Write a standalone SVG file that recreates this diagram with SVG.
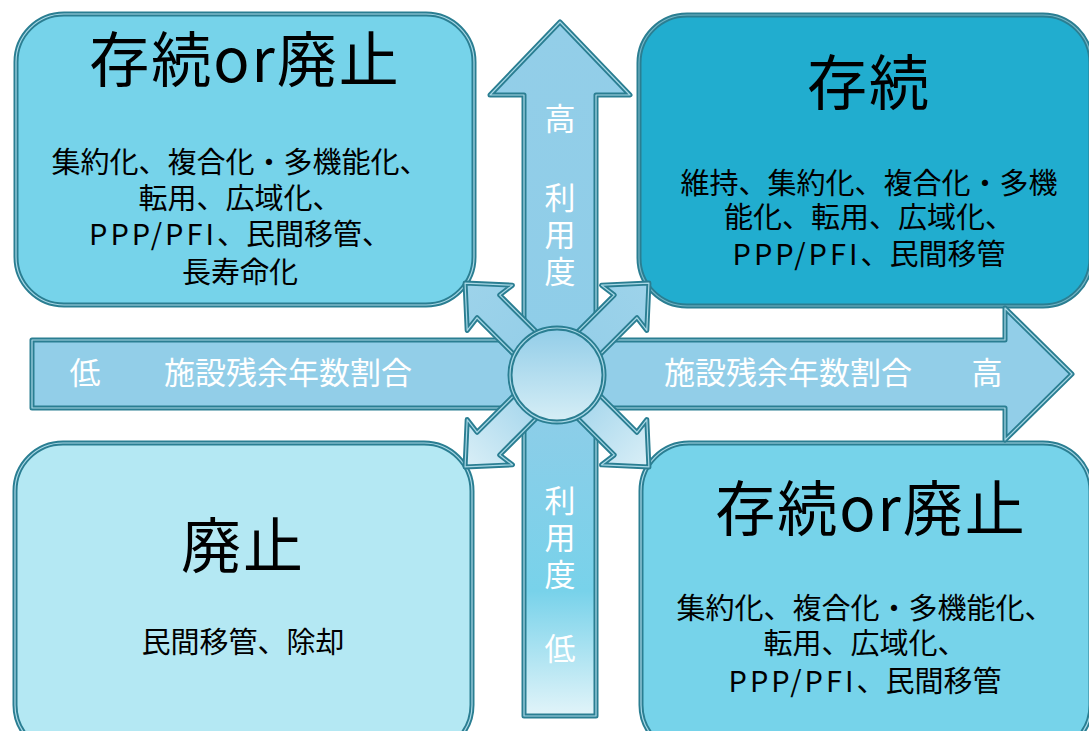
<svg xmlns="http://www.w3.org/2000/svg" width="1089" height="731" viewBox="0 0 1089 731">
<style>
.t{font-family:"Noto Sans CJK JP","Noto Sans CJK SC",sans-serif;text-anchor:middle;fill:#000}
.title{font-size:60px;letter-spacing:2px}
.body{font-size:29px}
.lbl{font-family:"Noto Sans CJK JP","Noto Sans CJK SC",sans-serif;text-anchor:middle;fill:#fff;font-size:31px}
.vl{font-family:"Noto Sans CJK JP","Noto Sans CJK SC",sans-serif;fill:#fff;font-size:31px;writing-mode:vertical-rl;letter-spacing:6px}
.edge{fill:none;stroke:#2A7E92;stroke-width:5;stroke-linejoin:round}
.hi{fill:none;stroke:#A9D8E6;stroke-width:1.2;stroke-linejoin:round}
</style>
<defs>
<linearGradient id="vg" gradientUnits="userSpaceOnUse" x1="0" y1="22" x2="0" y2="716">
<stop offset="0" stop-color="#93CEE8"/>
<stop offset="0.55" stop-color="#8ECDE8"/>
<stop offset="0.82" stop-color="#78D2EA"/>
<stop offset="1" stop-color="#E2F4F9"/>
</linearGradient>
<linearGradient id="cg" x1="0" y1="0" x2="0" y2="1">
<stop offset="0" stop-color="#92CDE8"/>
<stop offset="1" stop-color="#D6EEF6"/>
</linearGradient>
<linearGradient id="dgU" x1="0" y1="0" x2="1" y2="0">
<stop offset="0" stop-color="#92CDE8"/>
<stop offset="1" stop-color="#9DD3EA"/>
</linearGradient>
<linearGradient id="dgD" x1="0" y1="0" x2="1" y2="0">
<stop offset="0" stop-color="#92CDE8"/>
<stop offset="1" stop-color="#DAEFF7"/>
</linearGradient>
<path id="diag" d="M0,-16 L97,-16 L95,-32 L130,0 L95,32 L97,16 L0,16 Z"/>
<path id="varrow" d="M560,22 L630,95 L596,95 L596,716 L524,716 L524,95 L490,95 Z"/>
<path id="harrow" d="M32,340 L1005,340 L1005,308 L1072,374 L1005,440 L1005,408 L32,408 Z"/>
</defs>

<g id="node-tl">
<rect x="16" y="14" width="458" height="291" rx="48" fill="#76D3EA"/>
<rect x="16" y="14" width="458" height="291" rx="48" class="edge"/>
<rect x="16" y="14" width="458" height="291" rx="48" class="hi"/>
<text class="t title" x="245" y="82">存続or廃止</text>
<text class="t body"><tspan x="240" y="173">集約化、複合化・多機能化、</tspan><tspan x="240" y="209">転用、広域化、</tspan><tspan x="240" y="245"><tspan letter-spacing="3">PPP/PFI</tspan>、民間移管、</tspan><tspan x="240" y="283">長寿命化</tspan></text>
</g>

<g id="node-tr">
<rect x="639" y="15" width="452" height="291" rx="48" fill="#21ADCF"/>
<rect x="639" y="15" width="452" height="291" rx="48" class="edge"/>
<rect x="639" y="15" width="452" height="291" rx="48" class="hi" stroke-opacity="0.6"/>
<text class="t title" x="869" y="105">存続</text>
<text class="t body"><tspan x="869" y="194">維持、集約化、複合化・多機</tspan><tspan x="869" y="228">能化、転用、広域化、</tspan><tspan x="869" y="265"><tspan letter-spacing="3">PPP/PFI</tspan>、民間移管</tspan></text>
</g>

<g id="node-bl">
<rect x="15" y="443" width="457" height="310" rx="48" fill="#B4E8F3"/>
<rect x="15" y="443" width="457" height="310" rx="48" class="edge"/>
<rect x="15" y="443" width="457" height="310" rx="48" class="hi"/>
<text class="t title" x="243" y="568">廃止</text>
<text class="t body" x="243" y="653">民間移管、除却</text>
</g>

<g id="node-br">
<rect x="641" y="443" width="450" height="310" rx="48" fill="#76D3EA"/>
<rect x="641" y="443" width="450" height="310" rx="48" class="edge"/>
<rect x="641" y="443" width="450" height="310" rx="48" class="hi"/>
<text class="t title" x="871" y="531">存続or廃止</text>
<text class="t body"><tspan x="865" y="619">集約化、複合化・多機能化、</tspan><tspan x="865" y="654">転用、広域化、</tspan><tspan x="865" y="692"><tspan letter-spacing="3">PPP/PFI</tspan>、民間移管</tspan></text>
</g>

<g id="connectors">
<g id="axis-v">
<use href="#varrow" fill="url(#vg)"/>
<use href="#varrow" class="edge"/>
<use href="#varrow" class="hi"/>
</g>
<g id="axis-h">
<use href="#harrow" fill="#92CEE8"/>
<use href="#harrow" class="edge"/>
<use href="#harrow" class="hi"/>
</g>
<g id="diag-nw" transform="translate(557,375) rotate(-135)">
<use href="#diag" fill="url(#dgU)"/><use href="#diag" class="edge"/><use href="#diag" class="hi"/>
</g>
<g id="diag-ne" transform="translate(557,375) rotate(-45)">
<use href="#diag" fill="url(#dgU)"/><use href="#diag" class="edge"/><use href="#diag" class="hi"/>
</g>
<g id="diag-sw" transform="translate(557,375) rotate(135)">
<use href="#diag" fill="url(#dgD)"/><use href="#diag" class="edge"/><use href="#diag" class="hi"/>
</g>
<g id="diag-se" transform="translate(557,375) rotate(45)">
<use href="#diag" fill="url(#dgD)"/><use href="#diag" class="edge"/><use href="#diag" class="hi"/>
</g>
<g id="hub">
<circle cx="557" cy="375" r="47" fill="url(#cg)"/>
<circle cx="557" cy="375" r="47" class="edge"/>
<circle cx="557" cy="375" r="47" class="hi"/>
</g>
<g id="axis-labels">
<text class="lbl" x="85" y="384">低</text>
<text class="lbl" x="288" y="384">施設残余年数割合</text>
<text class="lbl" x="788" y="384">施設残余年数割合</text>
<text class="lbl" x="987" y="384">高</text>
<text class="lbl" x="560" y="130">高</text>
<text class="vl" x="560" y="182">利用度</text>
<text class="vl" x="560" y="485">利用度</text>
<text class="lbl" x="560" y="660">低</text>
</g>
</g>
</svg>
